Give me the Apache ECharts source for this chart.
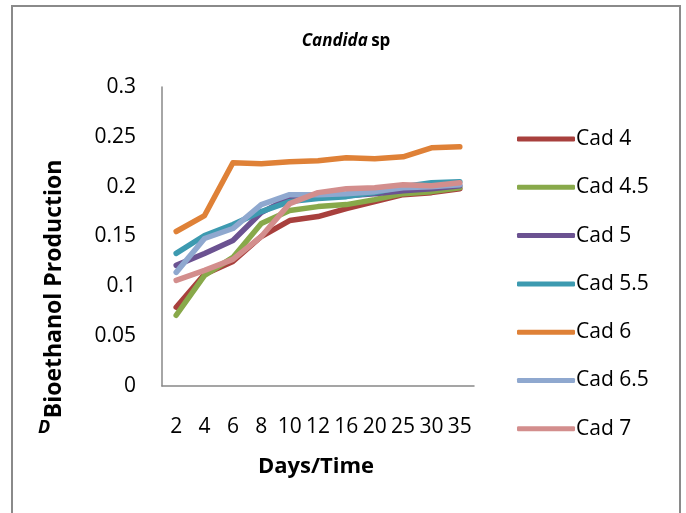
<!DOCTYPE html>
<html>
<head>
<meta charset="utf-8">
<script src="https://cdn.jsdelivr.net/npm/echarts@6/dist/echarts.min.js"></script>
<style>
  html, body { margin: 0; padding: 0; background: #fff; }
  #chart { width: 686px; height: 513px; }
</style>
</head>
<body>
<div id="chart"></div>
<script>
// days on x axis
const days = ['2', '4', '6', '8', '10', '12', '16', '20', '25', '30', '35'];
const yTicks = [0, 0.05, 0.1, 0.15, 0.2, 0.25, 0.3];

// bioethanol readings per Cad level
const cad4 = [0.079, 0.112, 0.125, 0.150, 0.166, 0.170, 0.178, 0.185, 0.192, 0.194, 0.198];
const cad45 = [0.071, 0.111, 0.129, 0.163, 0.176, 0.180, 0.182, 0.187, 0.193, 0.195, 0.199];
const cad5 = [0.121, 0.133, 0.146, 0.174, 0.189, 0.190, 0.191, 0.193, 0.196, 0.198, 0.201];
const cad55 = [0.133, 0.151, 0.162, 0.175, 0.185, 0.188, 0.190, 0.194, 0.200, 0.204, 0.205];
const cad6 = [0.155, 0.171, 0.224, 0.223, 0.225, 0.226, 0.229, 0.228, 0.230, 0.239, 0.240];
const cad65 = [0.114, 0.148, 0.158, 0.182, 0.192, 0.192, 0.193, 0.195, 0.199, 0.200, 0.202];
const cad7 = [0.106, 0.116, 0.127, 0.150, 0.183, 0.194, 0.198, 0.199, 0.202, 0.201, 0.204];

const names = ['Cad 4', 'Cad 4.5', 'Cad 5', 'Cad 5.5', 'Cad 6', 'Cad 6.5', 'Cad 7'];
const colors = ['#A8403D', '#88A94A', '#6B5291', '#3D9AB0', '#DF8137', '#8FA8CF', '#D38E8D'];
const values = [cad4, cad45, cad5, cad55, cad6, cad65, cad7];

const FONT = '"Open Sans", "Liberation Sans", sans-serif';

const myChart = echarts.init(document.getElementById('chart'), null, { renderer: 'canvas' });

myChart.setOption({
  backgroundColor: '#fff',
  animation: false,
  color: colors,
  textStyle: { fontFamily: FONT },
  grid: { left: 162, right: 212, top: 87, bottom: 127, containLabel: false },
  legend: {
    orient: 'vertical',
    left: 512,
    top: 121,
    icon: 'roundRect',
    itemWidth: 58,
    itemHeight: 5,
    itemGap: 22.3,
    textStyle: { fontSize: 21, color: '#000', lineHeight: 24, fontFamily: FONT, padding: [2, 0, 0, -4] },
    data: names
  },
  xAxis: {
    type: 'category',
    data: days,
    boundaryGap: true,
    axisLine: { lineStyle: { color: '#888', width: 1.5 } },
    axisTick: { show: false },
    axisLabel: { interval: 0, margin: 31, fontSize: 21, color: '#000', fontFamily: FONT }
  },
  yAxis: {
    type: 'value',
    min: yTicks[0],
    max: yTicks[yTicks.length - 1],
    interval: 0.05,
    splitLine: { show: false },
    axisLine: { show: true, lineStyle: { color: '#888', width: 1.5 } },
    axisTick: { show: false },
    axisLabel: { margin: 26, fontSize: 21, color: '#000', fontFamily: FONT, padding: [6, 0, 0, 0] }
  },
  series: names.map((n, i) => ({
    name: n,
    type: 'line',
    data: values[i],
    symbol: 'none',
    lineStyle: { width: 5.5, cap: 'round', join: 'round' }
  })),
  graphic: [
    {
      type: 'rect',
      shape: { x: 12, y: 6, width: 668, height: 530 },
      style: { fill: 'none', stroke: '#8a8a8a', lineWidth: 2 },
      silent: true
    },
    {
      type: 'text',
      x: 346, y: 41,
      style: {
        text: '{i|Candida} {n|sp}',
        align: 'center', verticalAlign: 'middle',
        rich: {
          i: { fontStyle: 'italic', fontWeight: 'bold', fontSize: 17, fontFamily: FONT, fill: '#000' },
          n: { fontWeight: 'bold', fontSize: 17, fontFamily: FONT, fill: '#000' }
        }
      }
    },
    {
      type: 'text',
      x: 316, y: 467,
      style: {
        text: 'Days/Time', fontWeight: 'bold', fontSize: 22, fontFamily: FONT,
        fill: '#000', align: 'center', verticalAlign: 'middle'
      }
    },
    {
      type: 'text',
      x: 54, y: 289,
      rotation: Math.PI / 2,
      style: {
        text: 'Bioethanol Production', fontWeight: 'bold', fontSize: 23, fontFamily: FONT,
        fill: '#000', align: 'center', verticalAlign: 'middle'
      }
    },
    {
      type: 'text',
      x: 44, y: 428,
      style: {
        text: 'D', fontWeight: 'bold', fontStyle: 'italic', fontSize: 18, fontFamily: FONT,
        fill: '#000', align: 'center', verticalAlign: 'middle'
      }
    }
  ]
});
</script>
</body>
</html>
